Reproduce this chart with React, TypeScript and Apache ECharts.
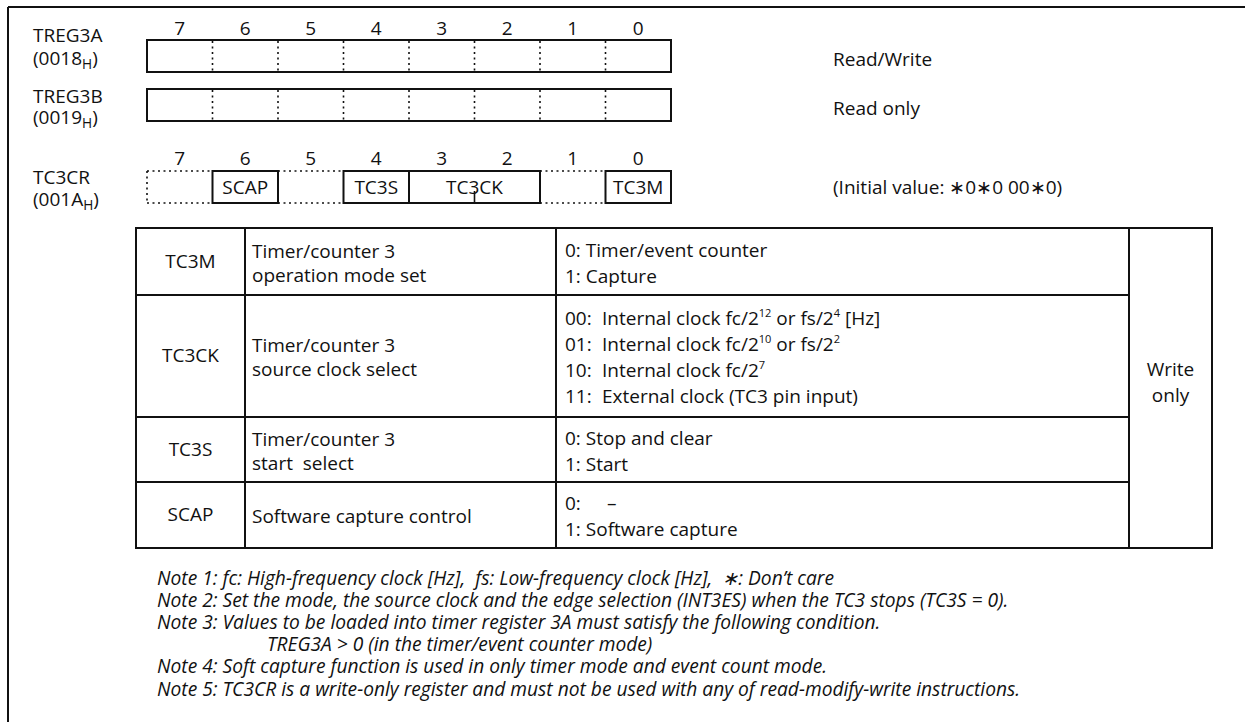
import React, { useEffect, useRef } from "react";
import * as echarts from "echarts";

// ---------- data ----------
const bitLabels = ["7", "6", "5", "4", "3", "2", "1", "0"];
const dataRegNames = ["TREG3A", "TREG3B"];
const dataRegAddrs = ["(0018_{H})", "(0019_{H})"];
const dataRegAccess = ["Read/Write", "Read only"];
const ctrlRegName = "TC3CR";
const ctrlRegAddr = "(001A_{H})";
const ctrlInitial = "(Initial value: \u22170\u22170 00\u22170)";
const ctrlFieldLabels = ["SCAP", "TC3S", "TC3CK", "TC3M"];
const ctrlFieldHi = [6, 4, 3, 0];
const ctrlFieldLo = [6, 4, 2, 0];
const ctrlUnusedBits = [7, 5, 1];

const rowNames = ["TC3M", "TC3CK", "TC3S", "SCAP"];
const rowDescs = [
  ["Timer/counter 3", "operation mode set"],
  ["Timer/counter 3", "source clock select"],
  ["Timer/counter 3", "start  select"],
  ["Software capture control"],
];
// [code, text, wideGap]
const rowSettings: [string, string, boolean][][] = [
  [
    ["0:", "Timer/event counter", false],
    ["1:", "Capture", false],
  ],
  [
    ["00:", "Internal clock fc/2^{12} or fs/2^{4} [Hz]", true],
    ["01:", "Internal clock fc/2^{10} or fs/2^{2}", true],
    ["10:", "Internal clock fc/2^{7}", true],
    ["11:", "External clock (TC3 pin input)", true],
  ],
  [
    ["0:", "Stop and clear", false],
    ["1:", "Start", false],
  ],
  [
    ["0:", "\u2013", true],
    ["1:", "Software capture", false],
  ],
];
const accessColumn = ["Write", "only"];

const notes = [
  "Note 1: fc: High-frequency clock [Hz],  fs: Low-frequency clock [Hz],  \u2217: Don\u2019t care",
  "Note 2: Set the mode, the source clock and the edge selection (INT3ES) when the TC3 stops (TC3S = 0).",
  "Note 3: Values to be loaded into timer register 3A must satisfy the following condition.",
  "TREG3A > 0 (in the timer/event counter mode)",
  "Note 4: Soft capture function is used in only timer mode and event count mode.",
  "Note 5: TC3CR is a write-only register and must not be used with any of read-modify-write instructions.",
];
const noteIndent = [false, false, false, true, false, false];

// ---------- layout ----------
const W = 1245;
const H = 722;
const FONT = '"Open Sans", "Noto Sans", sans-serif';
const FS = 19;
const NOTE_FS = 19.2;
const INK = "#111";

const BOX_X = 147;
const CELL_W = 65.5;
const REG_Y = [40, 89];
const REG_H = 32;
const REG_NAME_Y = [35, 96];
const REG_ADDR_Y = [58, 117];
const CTRL_Y = 171;
const CTRL_H = 32;
const BIT_ROW_Y = [28, 158];

const TBL_X = [136, 245, 556, 1129, 1212];
const TBL_Y = [228, 295, 417, 482, 548];

let ctx: CanvasRenderingContext2D | null = null;
function measure(t: string, size: number, italic: boolean) {
  if (!ctx) ctx = document.createElement("canvas").getContext("2d");
  if (!ctx) return t.length * size * 0.55;
  ctx.font = `${italic ? "italic " : ""}${size}px "Open Sans"`;
  return ctx.measureText(t).width;
}

function parse(str: string) {
  const out: { t: string; k: "n" | "sup" | "sub" }[] = [];
  const re = /(\^\{[^}]*\}|_\{[^}]*\})/g;
  let last = 0;
  let m: RegExpExecArray | null;
  while ((m = re.exec(str))) {
    if (m.index > last) out.push({ t: str.slice(last, m.index), k: "n" });
    const tok = m[0];
    out.push({ t: tok.slice(2, -1), k: tok[0] === "^" ? "sup" : "sub" });
    last = m.index + tok.length;
  }
  if (last < str.length) out.push({ t: str.slice(last), k: "n" });
  return out;
}

function run(
  x: number,
  y: number,
  str: string,
  opts: { size?: number; italic?: boolean; align?: "left" | "center" } = {}
) {
  const size = opts.size ?? FS;
  const italic = !!opts.italic;
  const segs = parse(str).map((s) => {
    const fs = s.k === "n" ? size : s.k === "sup" ? size * 0.58 : size * 0.72;
    const dy = s.k === "n" ? 0 : s.k === "sup" ? -size * 0.3 : size * 0.28;
    return { ...s, fs, dy, w: measure(s.t, fs, italic) };
  });
  const total = segs.reduce((a, s) => a + s.w, 0);
  let cx = opts.align === "center" ? x - total / 2 : x;
  const els: any[] = [];
  for (const s of segs) {
    els.push({
      type: "text",
      x: cx,
      y: y + s.dy,
      silent: true,
      style: {
        text: s.t,
        fill: INK,
        fontSize: s.fs,
        fontFamily: FONT,
        fontStyle: italic ? "italic" : "normal",
        lineHeight: Math.round(s.fs * 1.05),
        textAlign: "left",
        textVerticalAlign: "middle",
        align: "left",
        verticalAlign: "middle",
      },
    });
    cx += s.w;
  }
  return els;
}

function line(x1: number, y1: number, x2: number, y2: number, dotted = false, lw = 2) {
  return {
    type: "line",
    silent: true,
    shape: { x1, y1, x2, y2 },
    style: { stroke: INK, lineWidth: lw, lineDash: dotted ? [2, 3.5] : null, fill: null },
  };
}
function rect(x: number, y: number, w: number, h: number, lw = 2) {
  return {
    type: "rect",
    silent: true,
    shape: { x, y, width: w, height: h },
    style: { stroke: INK, lineWidth: lw, fill: "transparent" },
  };
}
const cellX = (bit: number) => BOX_X + (7 - bit) * CELL_W;

function buildGraphic() {
  const els: any[] = [];
  // outer frame (open at right and bottom)
  els.push(line(8, 7, W + 5, 7));
  els.push(line(8, 7, 8, H + 5));

  // bit numbers
  BIT_ROW_Y.forEach((yy) =>
    bitLabels.forEach((b, i) => els.push(...run(BOX_X + i * CELL_W + CELL_W / 2, yy, b, { align: "center" })))
  );

  // data registers
  dataRegNames.forEach((name, r) => {
    const y0 = REG_Y[r];
    els.push(rect(BOX_X, y0, CELL_W * 8, REG_H));
    for (let i = 1; i < 8; i++) els.push(line(BOX_X + i * CELL_W, y0 + 1, BOX_X + i * CELL_W, y0 + REG_H - 1, true, 1.6));
    els.push(...run(33, REG_NAME_Y[r], name));
    els.push(...run(33, REG_ADDR_Y[r], dataRegAddrs[r]));
    els.push(...run(833, y0 + REG_H / 2 + 3, dataRegAccess[r]));
  });

  // control register
  els.push(...run(33, CTRL_Y + 6, ctrlRegName));
  els.push(...run(33, CTRL_Y + 28, ctrlRegAddr));
  ctrlUnusedBits.forEach((b) => {
    const x0 = cellX(b);
    els.push(line(x0, CTRL_Y, x0 + CELL_W, CTRL_Y, true, 1.6));
    els.push(line(x0, CTRL_Y + CTRL_H, x0 + CELL_W, CTRL_Y + CTRL_H, true, 1.6));
    if (b === 7) els.push(line(x0, CTRL_Y, x0, CTRL_Y + CTRL_H, true, 1.6));
  });
  ctrlFieldLabels.forEach((lab, i) => {
    const x0 = cellX(ctrlFieldHi[i]);
    const x1 = cellX(ctrlFieldLo[i]) + CELL_W;
    els.push(rect(x0, CTRL_Y, x1 - x0, CTRL_H));
    for (let b = ctrlFieldHi[i] - 1; b >= ctrlFieldLo[i]; b--) {
      const xx = cellX(b);
      els.push(line(xx, CTRL_Y + 20, xx, CTRL_Y + CTRL_H, false, 1.6));
    }
    els.push(...run((x0 + x1) / 2, CTRL_Y + CTRL_H / 2, lab, { align: "center" }));
  });
  els.push(...run(833, CTRL_Y + CTRL_H / 2, ctrlInitial));

  // table
  const tx0 = TBL_X[0];
  const tx4 = TBL_X[4];
  els.push(rect(tx0, TBL_Y[0], tx4 - tx0, TBL_Y[4] - TBL_Y[0]));
  for (let c = 1; c < 4; c++) els.push(line(TBL_X[c], TBL_Y[0], TBL_X[c], TBL_Y[4]));
  for (let r = 1; r < 4; r++) els.push(line(tx0, TBL_Y[r], TBL_X[3], TBL_Y[r]));

  rowNames.forEach((name, r) => {
    const top = TBL_Y[r];
    const bot = TBL_Y[r + 1];
    const mid = (top + bot) / 2 + 1;
    els.push(...run((TBL_X[0] + TBL_X[1]) / 2, mid - 2, name, { align: "center" }));
    const desc = rowDescs[r];
    const dStep = 24;
    desc.forEach((d, k) => {
      els.push(...run(252, mid + (k - (desc.length - 1) / 2) * dStep, d));
    });
    const sets = rowSettings[r];
    const sStep = 26;
    sets.forEach(([code, text, wide], k) => {
      const yy = mid + (k - (sets.length - 1) / 2) * sStep;
      if (wide) {
        els.push(...run(565, yy, code));
        els.push(...run(r === 3 ? 607 : 602, yy, text));
      } else {
        els.push(...run(565, yy, code + " " + text));
      }
    });
  });
  const accMid = (TBL_Y[0] + TBL_Y[4]) / 2 - 6;
  accessColumn.forEach((t, k) => {
    els.push(...run((TBL_X[3] + TBL_X[4]) / 2, accMid + (k - 0.5) * 26, t, { align: "center" }));
  });

  // notes
  notes.forEach((n, i) => {
    els.push(...run(noteIndent[i] ? 267 : 157, 577 + i * 22.2, n, { size: NOTE_FS, italic: true }));
  });
  return els;
}

export default function App() {
  const ref = useRef<HTMLDivElement>(null);
  useEffect(() => {
    if (!ref.current) return;
    const chart = echarts.init(ref.current, null, { renderer: "svg", width: W, height: H });
    chart.setOption({
      animation: false,
      backgroundColor: "#fff",
      graphic: { elements: buildGraphic() },
    });
    return () => chart.dispose();
  }, []);
  return (
    <div
      ref={ref}
      style={{ position: "fixed", left: 0, top: 0, width: W, height: H, background: "#fff" }}
    />
  );
}
